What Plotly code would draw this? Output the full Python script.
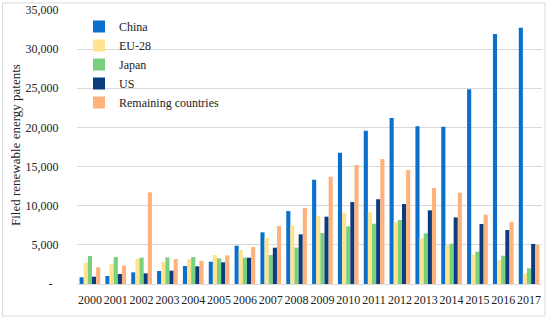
import plotly.graph_objects as go

years = [str(y) for y in range(2000, 2018)]
china = [860, 1020, 1490, 1660, 2300, 2850, 4890, 6600, 9320, 13320, 16770, 19580, 21200, 20140, 20090, 24870, 31930, 32730]
eu28 = [2720, 2550, 3230, 2810, 3150, 3700, 4340, 5910, 7490, 8720, 9100, 9150, 7920, 5840, 4940, 3790, 3070, 1360]
japan = [3580, 3450, 3360, 3400, 3450, 3280, 3360, 3700, 4640, 6510, 7370, 7700, 8170, 6470, 5150, 4130, 3620, 2000]
us = [930, 1280, 1360, 1700, 2260, 2770, 3360, 4640, 6340, 8600, 10470, 10820, 10220, 9410, 8510, 7660, 6900, 5110]
remaining = [2130, 2340, 11710, 3190, 2980, 3660, 4730, 7410, 9710, 13700, 15200, 15960, 14560, 12260, 11660, 8850, 7920, 4980]

series = [
    ("China", china, "#0A70CC"),
    ("EU-28", eu28, "#FFE38F"),
    ("Japan", japan, "#79D07E"),
    ("US", us, "#0B3C7D"),
    ("Remaining countries", remaining, "#FFB27C"),
]

tickvals = [0, 5000, 10000, 15000, 20000, 25000, 30000, 35000]
ticktext = ["-\u00a0\u00a0", "5,000", "10,000", "15,000", "20,000", "25,000", "30,000", "35,000"]
y_title = "Filed renewable energy patents"

fig = go.Figure()
for name, vals, col in series:
    fig.add_trace(go.Bar(x=years, y=vals, name=name, marker=dict(color=col, line=dict(width=0))))

font = "Liberation Serif, DejaVu Serif, serif"
W, H = 550, 320
L, R, T, B = 77, 8, 10, 36
pw, ph = W - L - R, H - T - B
fig.update_layout(
    width=W, height=H,
    margin=dict(l=L, r=R, t=T, b=B, autoexpand=False),
    paper_bgcolor="white", plot_bgcolor="white",
    barmode="group", bargap=0.2, bargroupgap=0,
    font=dict(family=font, size=12, color="#222"),
    legend=dict(xref="container", yref="container", x=79 / W, y=1 - 12 / H,
                xanchor="left", yanchor="top",
                bgcolor="rgba(0,0,0,0)", font=dict(size=12, family=font, color="#222")),
    xaxis=dict(showgrid=False, showline=True, linecolor="#D9D9D9", linewidth=1,
               ticks="outside", ticklen=5, tickcolor="rgba(0,0,0,0)", tickangle=0,
               tickfont=dict(size=12, family=font, color="#222")),
    yaxis=dict(range=[0, 35000], tickvals=tickvals, ticktext=ticktext,
               showgrid=True, gridcolor="#D9D9D9", gridwidth=1, zeroline=False,
               ticks="outside", ticklen=15, tickcolor="rgba(0,0,0,0)",
               tickfont=dict(size=12, family=font, color="#222")),
    annotations=[dict(text=y_title, xref="paper", yref="paper",
                      x=(15 - L) / pw, y=(H - B - 145) / ph, textangle=-90,
                      showarrow=False, xanchor="center", yanchor="middle",
                      font=dict(size=13, family=font, color="#222"))],
    shapes=[dict(type="rect", xref="paper", yref="paper",
                 x0=(2.5 - L) / pw, x1=(545 - L) / pw,
                 y0=(H - B - 316) / ph, y1=(H - B - 3) / ph,
                 line=dict(color="#D9D9D9", width=1), fillcolor="rgba(0,0,0,0)", layer="below")],
    showlegend=True,
)

fig.write_html("out.html", config={"displayModeBar": False},
               post_script="document.body.style.margin='0';document.body.style.overflow='hidden';")
